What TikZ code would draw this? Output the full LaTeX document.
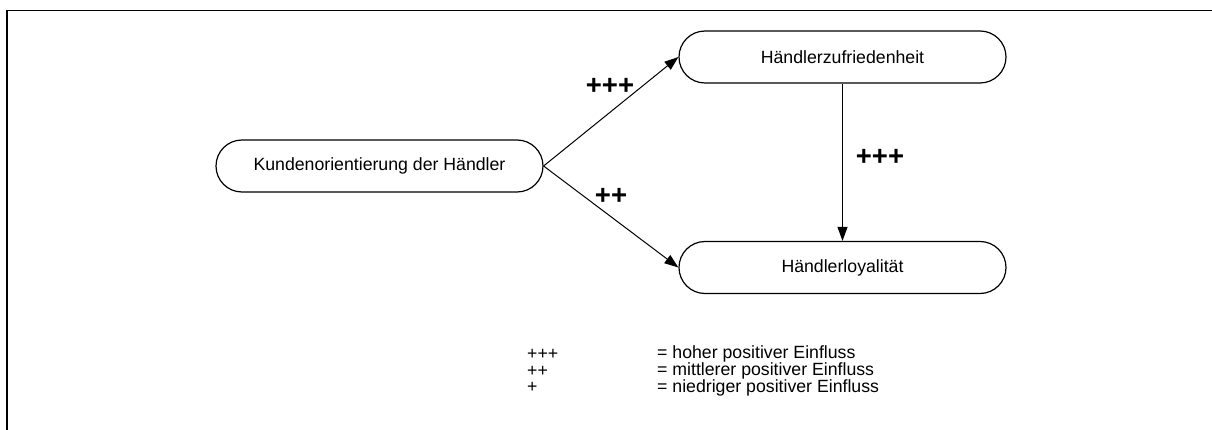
\documentclass[tikz,border=0pt]{standalone}
\usepackage{fontspec}
\setmainfont{Liberation Sans}
\usetikzlibrary{arrows.meta}
\begin{document}
\begin{tikzpicture}[x=1pt,y=-1pt,
  box/.style={draw,line width=1.2pt,rounded corners=26pt,minimum width=327pt,minimum height=52pt,inner sep=0pt,font=\fontsize{17.7}{20}\selectfont},
  conn/.style={line width=1pt,-{Triangle[length=14pt,width=10pt]}},
  plus/.style={font=\fontsize{27.5}{30}\bfseries\selectfont,inner sep=0pt},
  leg/.style={font=\fontsize{17.7}{20}\selectfont,inner sep=0pt,anchor=west}]
\useasboundingbox (0,0) rectangle (1212,430);
\draw[line width=1.5pt] (7,430) -- (7,10.5) -- (1212,10.5);
\node[box] (k) at (379.5,166) {Kundenorientierung der Händler};
\node[box] (z) at (842.5,57) {Händlerzufriedenheit};
\node[box] (l) at (842.5,267.5) {Händlerloyalität};
\draw[conn] (k.east) -- (z.west);
\draw[conn] (k.east) -- (l.west);
\draw[conn] (z.south) -- (l.north);
\node[plus] (p1) at (610,86) {+++};
\node[plus] (p2) at (611,196) {++};
\node[plus] (p3) at (880,157) {+++};
\node[leg] (a1) at (527,354) {+++};
\node[leg] (a2) at (527,371) {++};
\node[leg] (a3) at (527,387.5) {+};
\node[leg] (b1) at (657,354) {= hoher positiver Einfluss};
\node[leg] (b2) at (657,371) {= mittlerer positiver Einfluss};
\node[leg] (b3) at (657,387.5) {= niedriger positiver Einfluss};
\end{tikzpicture}
\end{document}
